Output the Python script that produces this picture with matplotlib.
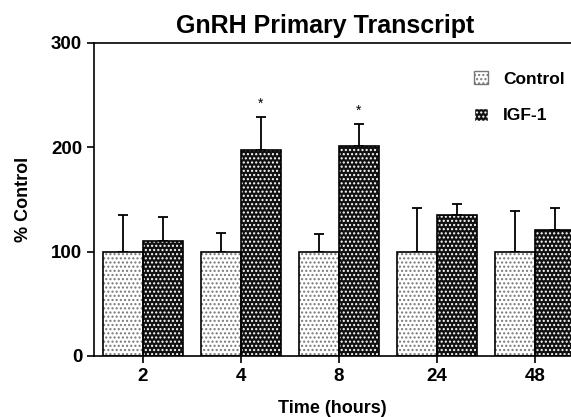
import numpy as np
import matplotlib.pyplot as plt
from matplotlib.patches import Patch

plt.rcParams["font.family"] = ["Liberation Sans", "DejaVu Sans"]
plt.rcParams["font.weight"] = "bold"
plt.rcParams["hatch.linewidth"] = 1.0

times = ["2", "4", "8", "24", "48"]
control_mean = [100, 100, 100, 100, 100]
control_err = [35, 18, 17, 42, 39]
igf_mean = [110, 197, 201, 135, 121]
igf_err = [23, 32, 21, 11, 21]
sig = ["", "*", "*", "", ""]

fig = plt.figure(figsize=(5.71, 4.17), dpi=100)
ax = fig.add_axes([0.1646, 0.1463, 0.8354, 0.7506])

x = np.arange(len(times))
w = 0.41

# control bars: white with grey dots
ax.bar(x - w / 2, control_mean, w, color="white", edgecolor="#777777",
       hatch="....", linewidth=0, zorder=2)
ax.bar(x - w / 2, control_mean, w, color="none", edgecolor="black",
       linewidth=1.2, zorder=3)
# IGF-1 bars: black with white dots
ax.bar(x + w / 2, igf_mean, w, color="#111111", edgecolor="white",
       hatch="....", linewidth=0, zorder=2)
ax.bar(x + w / 2, igf_mean, w, color="none", edgecolor="black",
       linewidth=1.2, zorder=3)

zeros = np.zeros(len(times))
ax.errorbar(x - w / 2, control_mean, yerr=[zeros, control_err], fmt="none",
            ecolor="black", elinewidth=1.3, capsize=3.5, capthick=1.3, zorder=1)
ax.errorbar(x + w / 2, igf_mean, yerr=[zeros, igf_err], fmt="none",
            ecolor="black", elinewidth=1.3, capsize=3.5, capthick=1.3, zorder=1)

for xi, m, e, s in zip(x, igf_mean, igf_err, sig):
    if s:
        ax.text(xi + w / 2, m + e + 6, s, ha="center", va="bottom",
                fontsize=10, fontweight="normal")

ax.set_xlim(-0.5, 4.37)
ax.set_ylim(0, 300)
ax.set_yticks([0, 100, 200, 300])
ax.set_xticks(x)
ax.set_xticklabels(times)
ax.tick_params(axis="both", labelsize=13.5, width=1.2, length=5, direction="out")
ax.spines["right"].set_visible(False)
for sp in ["left", "bottom", "top"]:
    ax.spines[sp].set_linewidth(1.2)

ax.set_title("GnRH Primary Transcript", fontsize=18, fontweight="bold", pad=7, x=0.485)
ax.set_ylabel("% Control", fontsize=13, fontweight="bold", labelpad=14)
ax.set_xlabel("Time (hours)", fontsize=13, fontweight="bold", labelpad=11)

handles = [
    Patch(facecolor="white", edgecolor="#777777", hatch="....", label="Control"),
    Patch(facecolor="#111111", edgecolor="white", hatch="....", label="IGF-1"),
]
ax.legend(handles=handles, loc="upper right", bbox_to_anchor=(1.02, 0.96),
          frameon=False, fontsize=12.5, handlelength=0.8, handleheight=0.8,
          labelspacing=1.2, handletextpad=0.9)

plt.savefig("out.png", dpi=100)
